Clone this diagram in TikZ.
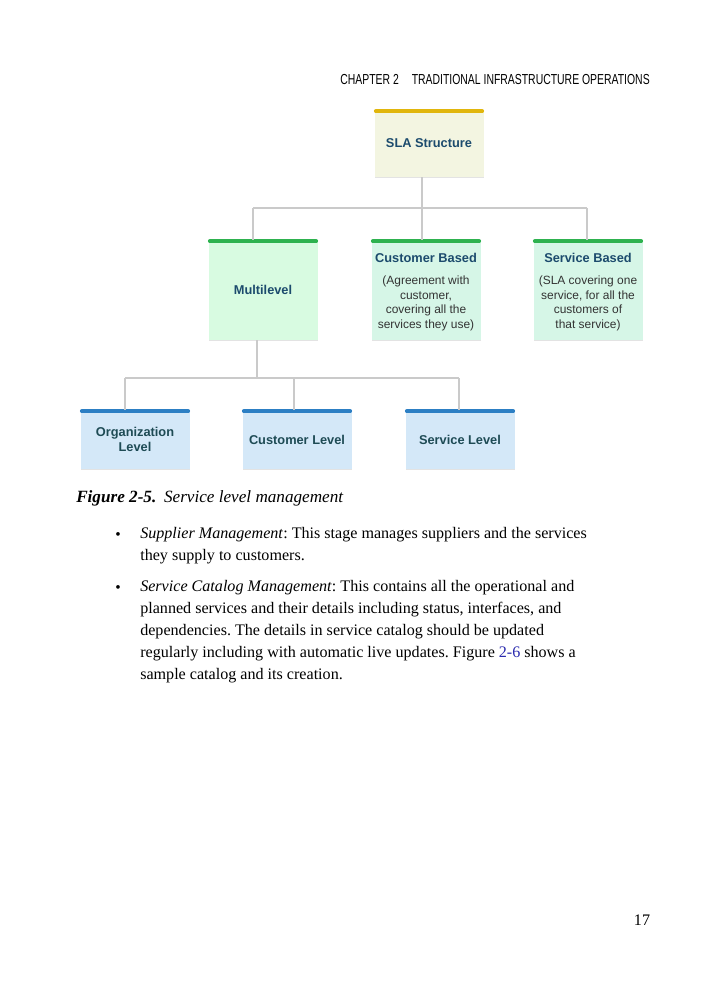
\documentclass[tikz,border=0pt]{standalone}
\usepackage{fontspec}
\setmainfont{Liberation Serif}
\setsansfont{Liberation Sans}
\usetikzlibrary{shadows,positioning}
\definecolor{slafill}{HTML}{F3F5E1}
\definecolor{slabar}{HTML}{E1B60C}
\definecolor{multifill}{HTML}{D8FBE1}
\definecolor{basedfill}{HTML}{D6F6E7}
\definecolor{greenbar}{HTML}{2EB24F}
\definecolor{levelfill}{HTML}{D4E8F8}
\definecolor{bluebar}{HTML}{2C7FC4}
\definecolor{titlecol}{HTML}{1C4B6D}
\definecolor{levelcol}{HTML}{1E4B55}
\definecolor{linkcol}{HTML}{CACACA}
\definecolor{refcol}{HTML}{2A2AAE}
\frenchspacing

\begin{document}
\begin{tikzpicture}[x=0.025cm,y=-0.025cm]
 \tikzstyle{box} = [rectangle,inner sep=0,minimum width=109*0.025cm,align=center,
                    font=\sffamily\bfseries\fontsize{9.1}{11}\selectfont,
                    drop shadow={opacity=0.22,shadow xshift=0.6pt,shadow yshift=-0.8pt}]
 \tikzstyle{boxtitle} = [inner sep=0,text=titlecol,font=\sffamily\bfseries\fontsize{9.1}{11}\selectfont]
 \tikzstyle{desc} = [inner sep=0,align=center,text=black!80,font=\sffamily\fontsize{8.5}{10.3}\selectfont]
 \tikzstyle{bar} = [line width=2.6pt,line cap=round,shorten <=1.1pt,shorten >=1.1pt]
 \tikzstyle{link} = [linkcol,line width=0.9pt]
 \tikzstyle{body} = [anchor=north west,inner sep=0,align=left,font=\fontsize{11.45}{15.65}\selectfont]

 \useasboundingbox[fill=white] (0,0) rectangle (700,1000);

% running head
 \node[anchor=base west,inner sep=0,font=\sffamily\fontsize{10.3}{12}\selectfont] (chap) at (340,84)
   {\scalebox{0.72}[1]{CHAPTER 2}};
 \node[anchor=base east,inner sep=0,font=\sffamily\fontsize{10.3}{12}\selectfont] (head) at (650,84)
   {\scalebox{0.72}[1]{TRADITIONAL INFRASTRUCTURE OPERATIONS}};

% boxes
 \node[box,fill=slafill,minimum height=67*0.025cm,text=titlecol] (sla) at (429,143.5) {SLA Structure};
 \node[box,fill=multifill,minimum height=100*0.025cm,text=titlecol] (multi) at (263,290) {Multilevel};
 \node[box,fill=basedfill,minimum height=100*0.025cm] (custb) at (426,290) {};
 \node[box,fill=basedfill,minimum height=100*0.025cm] (svcb) at (588,290) {};
 \node[box,fill=levelfill,minimum height=59*0.025cm,text=levelcol] (org) at (135,439.5) {Organization\\Level};
 \node[box,fill=levelfill,minimum height=59*0.025cm,text=levelcol] (custl) at (297,439.5) {Customer Level};
 \node[box,fill=levelfill,minimum height=59*0.025cm,text=levelcol] (svcl) at (460,439.5) {Service Level};

 \node[boxtitle] (custbt) at (426,258) {Customer Based};
 \node[desc,below=9pt of custbt] (custbd)
   {(Agreement with\\customer,\\covering all the\\services they use)};
 \node[boxtitle] (svcbt) at (588,258) {Service Based};
 \node[desc,below=9pt of svcbt] (svcbd)
   {(SLA covering one\\service, for all the\\customers of\\that service)};

 \foreach \n/\c in {sla/slabar,multi/greenbar,custb/greenbar,svcb/greenbar,org/bluebar,custl/bluebar,svcl/bluebar}
   \draw[bar,\c] ([yshift=-1pt]\n.north west) -- ([yshift=-1pt]\n.north east);

% connectors
 \coordinate (top) at (422,208);
 \coordinate (topl) at (253,208);
 \coordinate (topr) at (587,208);
 \draw[link] (top |- sla.south) -- (top);
 \draw[link] (topl) -- (topr);
 \draw[link] (topl) -- (topl |- multi.north);
 \draw[link] (top) -- (top |- custb.north);
 \draw[link] (topr) -- (topr |- svcb.north);

 \coordinate (mid) at (257,378);
 \coordinate (midl) at (125,378);
 \coordinate (midc) at (294,378);
 \coordinate (midr) at (459,378);
 \draw[link] (mid |- multi.south) -- (mid);
 \draw[link] (midl) -- (midr);
 \draw[link] (midl) -- (midl |- org.north);
 \draw[link] (midc) -- (midc |- custl.north);
 \draw[link] (midr) -- (midr |- svcl.north);

% caption and text
 \node[anchor=base west,inner sep=0,font=\fontsize{12.2}{14}\selectfont] (cap) at (76,502)
   {\textbf{\textit{Figure 2-5.}}\hspace{0.45em}\textit{Service level management}};
 \node[anchor=base,inner sep=0,font=\fontsize{11}{14}\selectfont] (b1) at (118,539) {\textbullet};
 \node[body] (p1) at (140,527)
   {\textit{Supplier Management}: This stage manages suppliers and the services\\
    they supply to customers.};
 \node[anchor=base,inner sep=0,font=\fontsize{11}{14}\selectfont] (b2) at (118,592) {\textbullet};
 \node[body] (p2) at (140,580)
   {\textit{Service Catalog Management}: This contains all the operational and\\
    planned services and their details including status, interfaces, and\\
    dependencies. The details in service catalog should be updated\\
    regularly including with automatic live updates. Figure \textcolor{refcol}{2-6} shows a\\
    sample catalog and its creation.};

 \node[anchor=base,inner sep=0,font=\fontsize{11.45}{14}\selectfont] (page) at (642,925) {17};
\end{tikzpicture}
\end{document}
